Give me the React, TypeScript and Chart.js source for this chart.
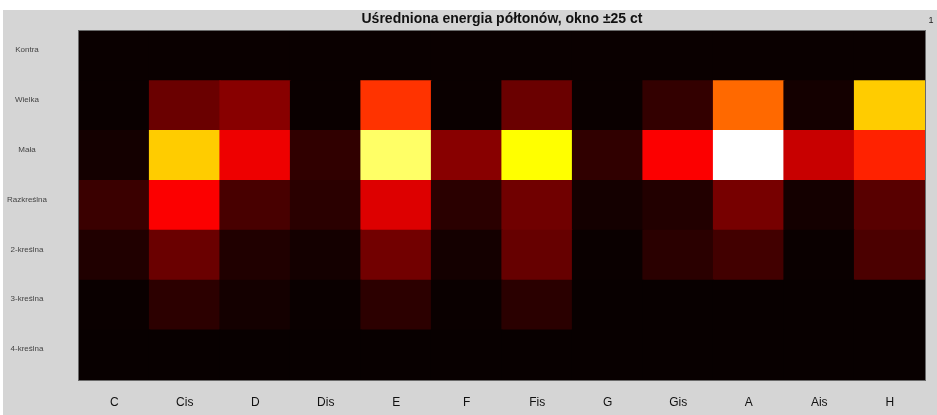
import React, { useEffect, useRef } from "react";
import { Chart, registerables } from "chart.js";

Chart.register(...registerables);

const notes = ["C", "Cis", "D", "Dis", "E", "F", "Fis", "G", "Gis", "A", "Ais", "H"];
const octaves = ["Kontra", "Wielka", "Mała", "Razkreślna", "2-kreślna", "3-kreślna", "4-kreślna"];

const kontra = [0.015, 0.015, 0.015, 0.015, 0.015, 0.015, 0.015, 0.015, 0.015, 0.015, 0.015, 0.015];
const wielka = [0.015, 0.156, 0.2, 0.015, 0.45, 0.015, 0.156, 0.015, 0.075, 0.53, 0.03, 0.675];
const mala = [0.03, 0.675, 0.35, 0.07, 0.85, 0.2, 0.75, 0.07, 0.37, 1.0, 0.294, 0.425];
const razkreslna = [0.085, 0.37, 0.106, 0.062, 0.325, 0.062, 0.165, 0.03, 0.05, 0.175, 0.03, 0.13];
const dwukreslna = [0.047, 0.156, 0.047, 0.03, 0.168, 0.03, 0.15, 0.015, 0.062, 0.097, 0.015, 0.11];
const trzykreslna = [0.015, 0.065, 0.03, 0.015, 0.065, 0.015, 0.062, 0.012, 0.012, 0.012, 0.012, 0.012];
const czterokreslna = [0.012, 0.012, 0.012, 0.012, 0.012, 0.012, 0.012, 0.012, 0.012, 0.012, 0.012, 0.012];

const rows = [kontra, wielka, mala, razkreslna, dwukreslna, trzykreslna, czterokreslna];

const TITLE = "Uśredniona energia półtonów, okno ±25 ct";
const LABEL_SHIFT = 0.12;

function hot(v: number): string {
  const c = (x: number) => Math.round(255 * Math.max(0, Math.min(1, x)));
  const r = c(v / 0.375);
  const g = c((v - 0.375) / 0.375);
  const b = c((v - 0.75) / 0.25);
  return `rgb(${r},${g},${b})`;
}

const bgPlugin = {
  id: "bgPlugin",
  beforeDraw(chart: any) {
    const { ctx, width, height } = chart;
    ctx.save();
    ctx.fillStyle = "#ffffff";
    ctx.fillRect(0, 0, width, height);
    ctx.fillStyle = "#d5d5d5";
    ctx.fillRect(3, 10, width - 3, height - 10);
    ctx.restore();
  },
  afterDatasetsDraw(chart: any) {
    const { ctx, chartArea } = chart;
    ctx.save();
    ctx.strokeStyle = "#6a6a6a";
    ctx.lineWidth = 1;
    ctx.strokeRect(chartArea.left - 0.5, chartArea.top - 0.5, chartArea.right - chartArea.left + 1, chartArea.bottom - chartArea.top + 1);
    ctx.restore();
  },
  afterDraw(chart: any) {
    const { ctx } = chart;
    ctx.save();
    ctx.fillStyle = "#222";
    ctx.font = "9px 'Liberation Sans', Arial, sans-serif";
    ctx.textAlign = "center";
    ctx.textBaseline = "middle";
    ctx.fillText("1", 931, 21);
    ctx.restore();
  },
};

export default function App() {
  const ref = useRef<HTMLCanvasElement | null>(null);

  useEffect(() => {
    if (!ref.current) return;
    const datasets = rows
      .map((row, i) => ({
        label: octaves[i],
        data: notes.map(() => 1),
        backgroundColor: row.map(hot),
        borderWidth: 0,
        inflateAmount: 0.6,
        categoryPercentage: 1,
        barPercentage: 1,
      }))
      .reverse();

    const chart = new Chart(ref.current, {
      type: "bar",
      data: { labels: notes, datasets },
      plugins: [bgPlugin],
      options: {
        animation: false,
        responsive: false,
        layout: { padding: { left: 0, right: 12, top: 0, bottom: 0 } },
        plugins: {
          legend: { display: false },
          tooltip: { enabled: false },
          title: {
            display: true,
            text: TITLE,
            fullSize: false,
            color: "#111",
            font: { family: "'Liberation Sans', Arial, sans-serif", size: 14, weight: "bold" },
            padding: { top: 10.6, bottom: 3.6 },
          },
        },
        scales: {
          x: {
            stacked: true,
            grid: { display: false, drawTicks: false },
            border: { display: false },
            ticks: {
              color: "#111",
              font: { family: "'Liberation Sans', Arial, sans-serif", size: 12 },
              padding: 15,
              maxRotation: 0,
            },
            afterFit(scale: any) {
              scale.height = 35;
            },
          },
          y: {
            stacked: true,
            min: 0,
            max: 7,
            grid: { display: false, drawTicks: false },
            border: { display: false },
            afterBuildTicks(scale: any) {
              scale.ticks = octaves.map((_, i) => ({ value: 7 - i - 0.5 + LABEL_SHIFT }));
            },
            ticks: {
              color: "#444",
              font: { family: "'Liberation Sans', Arial, sans-serif", size: 8 },
              crossAlign: "center",
              padding: 32,
              callback: (value: any) => octaves[Math.round(6.5 + LABEL_SHIFT - Number(value))],
            },
            afterFit(scale: any) {
              scale.width = 79;
              scale.paddingTop = 0;
              scale.paddingBottom = 0;
            },
          },
        },
      } as any,
    });
    return () => chart.destroy();
  }, []);

  return (
    <div style={{ position: "absolute", left: 0, top: 0, width: 937, height: 415 }}>
      <canvas ref={ref} width={937} height={415} style={{ display: "block" }} />
    </div>
  );
}
